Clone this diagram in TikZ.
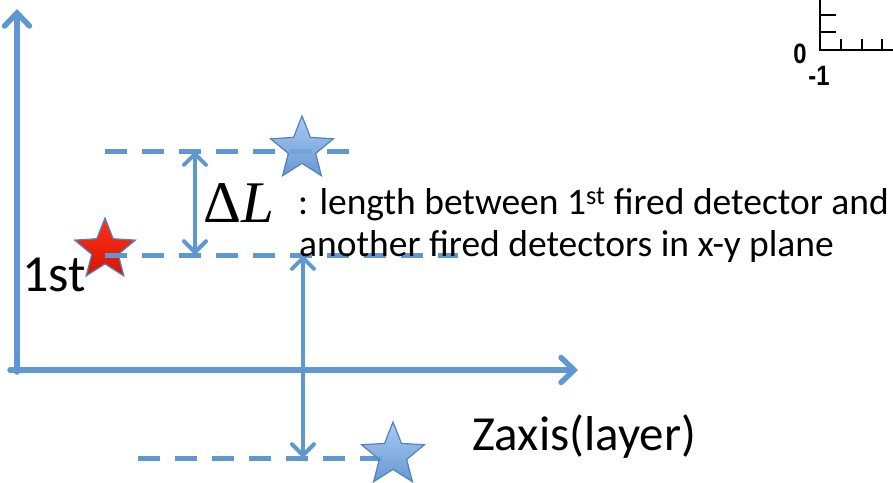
\documentclass[tikz,border=0pt]{standalone}
\usepackage{fontspec}
\setmainfont{Carlito}
\newfontfamily\ticksfont[FakeStretch=0.85]{Liberation Sans}
\newfontfamily\tms{Liberation Serif}
\usetikzlibrary{arrows.meta,shapes.geometric}
\definecolor{lineblue}{RGB}{95,152,208}
\definecolor{starlight}{RGB}{160,198,240}
\definecolor{stardark}{RGB}{88,140,205}
\definecolor{starrim}{RGB}{80,130,195}
\begin{document}
\begin{tikzpicture}[x=1pt,y=-1pt,
  axisline/.style={draw=lineblue,line width=5.5pt,line cap=round,-{Straight Barb[length=13pt,width=25pt,line cap=round]}},
  dimarrow/.style={draw=lineblue,line width=4pt,{Straight Barb[length=11pt,width=22pt,line cap=round]}-{Straight Barb[length=11pt,width=22pt,line cap=round]}},
  dashline/.style={draw=lineblue,line width=5pt,dash pattern=on 22pt off 15pt},
  bluestar/.style={star,star points=5,star point ratio=2.3,minimum size=66pt,inner sep=0pt,
     top color=starlight,bottom color=stardark,draw=starrim,line width=1.2pt,fill opacity=0.9},
  redstar/.style={star,star points=5,star point ratio=2.3,minimum size=64pt,inner sep=0pt,
     top color={rgb,255:red,255;green,50;blue,20},bottom color={rgb,255:red,215;green,20;blue,5},draw=starrim,line width=1.2pt},
  thin axis/.style={draw=black,line width=1.3pt},
  ticklbl/.style={inner sep=0pt,anchor=base},
  lbl/.style={inner sep=0pt,anchor=base west,text=black}]
\useasboundingbox (0,0) rectangle (893,482);

% small plot fragment at top right
\draw[thin axis] (820,0) -- (820,50) -- (893,50);
\foreach \yy in {15,32} \draw[thin axis] (820,\yy) -- (836,\yy);
\foreach \xx in {841,862,882} \draw[thin axis] (\xx,39) -- (\xx,50);
\node[ticklbl] (zero) at (800,63) {\ticksfont\bfseries\fontsize{28}{28}\selectfont 0};
\node[ticklbl] (mone) at (819,85) {\ticksfont\bfseries\fontsize{28}{28}\selectfont -1};

% axes
\coordinate (O) at (17,372);
\coordinate (ytop) at (17,9);
\coordinate (xl) at (10,370);
\coordinate (xr) at (578,370);
\draw[axisline] (O) -- (ytop);
\draw[axisline] (xl) -- (xr);

% red star (under dashes)
\node[redstar] (s1) at (105,250) {};

% dashed levels
\coordinate (d1a) at (105,151); \coordinate (d1b) at (352,151);
\coordinate (d2a) at (105,255); \coordinate (d2b) at (458,255);
\coordinate (d3a) at (138,458); \coordinate (d3b) at (385,458);
\draw[dashline] (d1a) -- (d1b);
\draw[dashline] (d2a) -- (d2b);
\draw[dashline] (d3a) -- (d3b);

% blue stars
\node[bluestar] (s2) at (302,149) {};
\node[bluestar] (s3) at (393,455) {};

% dimension arrows
\coordinate (a1t) at (195,151); \coordinate (a1b) at (195,255);
\coordinate (a2t) at (303,255); \coordinate (a2b) at (303,458);
\draw[dimarrow] (a1t) -- (a1b);
\draw[dimarrow] (a2t) -- (a2b);

% texts
\node[lbl,font=\tms\fontsize{59}{59}\selectfont] (dl) at (203,222) {Δ\textit{L}};
\node[lbl,font=\fontsize{37.5}{37.5}\selectfont] (t1) at (298,214) {: length between 1\textsuperscript{st} fired detector and};
\node[lbl,font=\fontsize{37.5}{37.5}\selectfont] (t2) at (299,256) {another fired detectors in x-y plane};
\node[lbl,font=\fontsize{52}{52}\selectfont] (first) at (22,291) {1st};
\node[lbl,font=\fontsize{49}{49}\selectfont] (zax) at (472,450) {Zaxis(layer)};
\end{tikzpicture}
\end{document}
